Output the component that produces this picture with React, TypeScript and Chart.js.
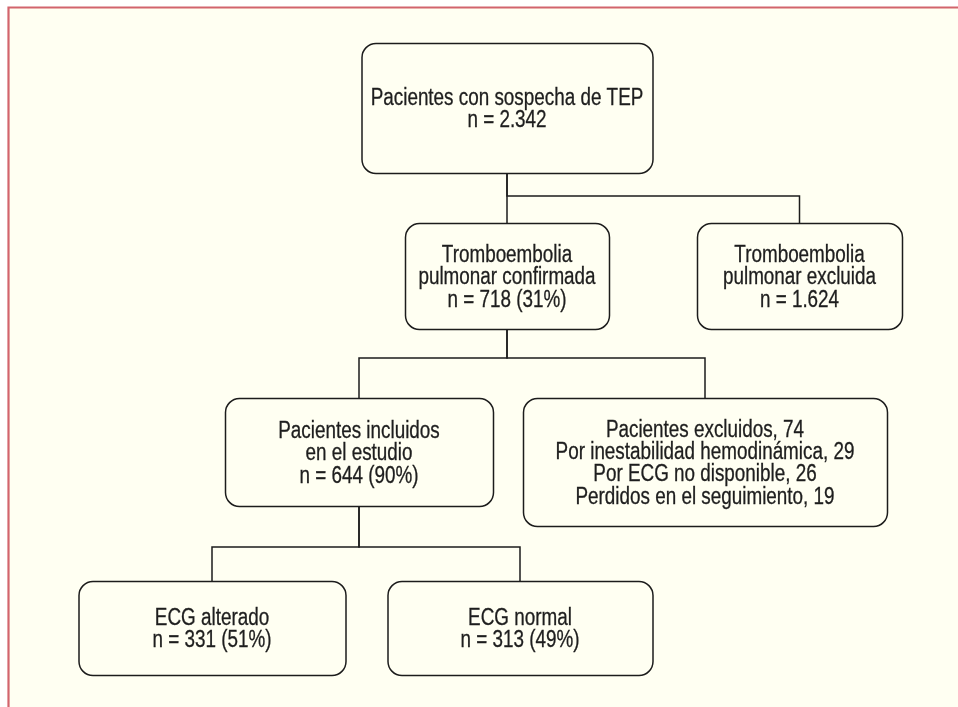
import React, { useEffect, useRef } from "react";
import { Chart, registerables } from "chart.js";

Chart.register(...registerables);

// ---- data ----
const nodeLines: string[][] = [
  ["Pacientes con sospecha de TEP", "n = 2.342"],
  ["Tromboembolia", "pulmonar confirmada", "n = 718 (31%)"],
  ["Tromboembolia", "pulmonar excluida", "n = 1.624"],
  ["Pacientes incluidos", "en el estudio", "n = 644 (90%)"],
  [
    "Pacientes excluidos, 74",
    "Por inestabilidad hemodinámica, 29",
    "Por ECG no disponible, 26",
    "Perdidos en el seguimiento, 19",
  ],
  ["ECG alterado", "n = 331 (51%)"],
  ["ECG normal", "n = 313 (49%)"],
];

// node centres / sizes in diagram units
const nodeCX = [507, 507, 799.5, 359, 705, 212, 520];
const nodeCY = [108, 276, 276, 452, 462, 628, 628];
const nodeW = [291, 204, 205, 268, 364, 267, 265];
const nodeH = [130, 106, 106, 108, 128, 94, 94];

// connectors: parent -> child via a horizontal bus
const edgeParent = [0, 0, 1, 1, 3, 3];
const edgeChild = [1, 2, 3, 4, 5, 6];
const edgeBusY = [196, 196, 358, 358, 547, 547];

const X_MAX = 958;
const Y_MAX = 707;

const FONT = '23px "Liberation Sans", Arial, Helvetica, sans-serif';
const X_SQUEEZE = 0.82;
const CAP_H = 16.4;
const LINE_H = 22.4;

function connectorDatasets() {
  return edgeParent.map((p, i) => {
    const c = edgeChild[i];
    const px = nodeCX[p];
    const pb = nodeCY[p] + nodeH[p] / 2;
    const cx = nodeCX[c];
    const ct = nodeCY[c] - nodeH[c] / 2;
    const by = edgeBusY[i];
    return {
      label: "edge" + i,
      data: [
        { x: px, y: pb },
        { x: px, y: by },
        { x: cx, y: by },
        { x: cx, y: ct },
      ],
      showLine: true,
      borderColor: "#1c1c1c",
      borderWidth: 1.5,
      pointRadius: 0,
      tension: 0,
      fill: false,
    };
  });
}

const flowPlugin = {
  id: "flow",
  beforeDatasetsDraw(chart: any) {
    const { ctx, scales } = chart;
    const sx = scales.x;
    const sy = scales.y;
    ctx.save();
    ctx.fillStyle = "#ffffff";
    ctx.fillRect(0, 0, chart.width, chart.height);
    const fx = sx.getPixelForValue(8);
    const fy = sy.getPixelForValue(7);
    ctx.fillStyle = "#fffff2";
    ctx.fillRect(fx, fy, sx.getPixelForValue(X_MAX) - fx, sy.getPixelForValue(Y_MAX) - fy);
    ctx.strokeStyle = "#d2646d";
    ctx.lineWidth = 2.2;
    ctx.beginPath();
    ctx.moveTo(sx.getPixelForValue(X_MAX), sy.getPixelForValue(7.5));
    ctx.lineTo(sx.getPixelForValue(8.5), sy.getPixelForValue(7.5));
    ctx.lineTo(sx.getPixelForValue(8.5), sy.getPixelForValue(Y_MAX));
    ctx.stroke();
    ctx.restore();
  },
  afterDatasetsDraw(chart: any) {
    const { ctx, scales } = chart;
    const sx = scales.x;
    const sy = scales.y;
    ctx.save();
    nodeLines.forEach((lines, i) => {
      const x0 = sx.getPixelForValue(nodeCX[i] - nodeW[i] / 2);
      const x1 = sx.getPixelForValue(nodeCX[i] + nodeW[i] / 2);
      const y0 = sy.getPixelForValue(nodeCY[i] - nodeH[i] / 2);
      const y1 = sy.getPixelForValue(nodeCY[i] + nodeH[i] / 2);
      ctx.beginPath();
      ctx.roundRect(x0 + 0.5, y0 + 0.5, x1 - x0, y1 - y0, 14);
      ctx.fillStyle = "#fffff2";
      ctx.fill();
      ctx.strokeStyle = "#1c1c1c";
      ctx.lineWidth = 1.5;
      ctx.stroke();

      ctx.fillStyle = "#1e1e1e";
      ctx.strokeStyle = "#1e1e1e";
      ctx.lineWidth = 0.3;
      ctx.font = FONT;
      ctx.textAlign = "center";
      ctx.textBaseline = "alphabetic";
      const cx = sx.getPixelForValue(nodeCX[i]);
      const cy = sy.getPixelForValue(nodeCY[i]);
      const n = lines.length;
      lines.forEach((t, k) => {
        const yy = cy + (k - (n - 1) / 2) * LINE_H + CAP_H / 2;
        ctx.save();
        ctx.translate(cx, yy);
        ctx.scale(X_SQUEEZE, 1);
        ctx.fillText(t, 0, 0);
        ctx.strokeText(t, 0, 0);
        ctx.restore();
      });
    });
    ctx.restore();
  },
};

export default function App() {
  const ref = useRef<HTMLCanvasElement | null>(null);
  useEffect(() => {
    if (!ref.current) return;
    const chart = new Chart(ref.current, {
      type: "scatter",
      data: { datasets: connectorDatasets() as any },
      options: {
        animation: false,
        responsive: false,
        maintainAspectRatio: false,
        devicePixelRatio: 1,
        layout: { padding: 0 },
        plugins: { legend: { display: false }, tooltip: { enabled: false } },
        scales: {
          x: { type: "linear", min: 0, max: X_MAX, display: false },
          y: { type: "linear", min: 0, max: Y_MAX, reverse: true, display: false },
        },
      },
      plugins: [flowPlugin],
    });
    return () => chart.destroy();
  }, []);
  return (
    <div style={{ position: "fixed", left: 0, top: 0, width: 958, height: 707 }}>
      <canvas ref={ref} width={958} height={707} style={{ display: "block" }} />
    </div>
  );
}
